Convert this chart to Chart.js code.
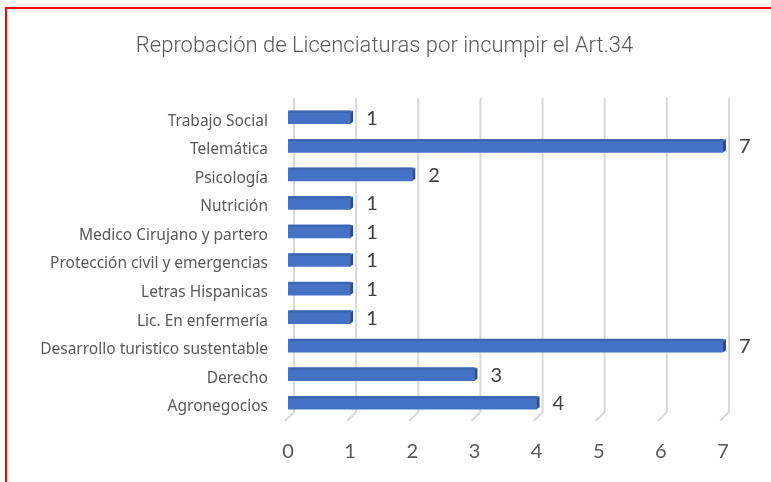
<!DOCTYPE html>
<html>
<head>
<meta charset="utf-8">
<script src="https://cdn.jsdelivr.net/npm/chart.js@4/dist/chart.umd.min.js"></script>
<style>
    html, body { margin: 0; padding: 0; background: #fff; overflow: hidden; }
    #wrap { position: relative; width: 771px; height: 482px; }
    #frame { position: absolute; left: 5px; top: 7px; width: 800px; height: 500px;
             border-left: 2px solid #ff0000; border-top: 2px solid #ff0000; }
    canvas { position: absolute; left: 0; top: 0; }
</style>
</head>
<body>
<div id="wrap">
    <div id="frame"></div>
    <canvas id="c" width="771" height="482"></canvas>
</div>
<script>
const titleText = 'Reprobación de Licenciaturas por incumpir el Art.34';
const carreras = [
    'Trabajo Social',
    'Telemática',
    'Psicología',
    'Nutrición',
    'Medico Cirujano y partero',
    'Protección civil y emergencias',
    'Letras Hispanicas',
    'Lic. En enfermería',
    'Desarrollo turistico sustentable',
    'Derecho',
    'Agronegocios'
];
const reprobados = [1, 7, 2, 1, 1, 1, 1, 1, 7, 3, 4];
const xTicks = [0, 1, 2, 3, 4, 5, 6, 7];

// fake 3D: back gridlines with a little floor stub, bar top face and end cap, value labels
const look3d = {
    id: 'look3d',
    beforeDatasetsDraw(chart) {
        const ctx = chart.ctx;
        const xs = chart.scales.x;
        const area = chart.chartArea;
        ctx.save();
        // title, centred on the whole picture (Excel style)
        ctx.fillStyle = '#595959';
        ctx.font = '300 22px Roboto';
        ctx.textAlign = 'center';
        ctx.textBaseline = 'middle';
        ctx.fillText(titleText, chart.width / 2 - 1, 46);

        ctx.strokeStyle = '#d9d9d9';
        ctx.lineWidth = 2;
        xTicks.forEach(v => {
            const px = xs.getPixelForValue(v);
            ctx.beginPath();
            ctx.moveTo(px + 6, area.top - 5);
            ctx.lineTo(px + 6, area.bottom - 5);
            ctx.lineTo(px - 3, area.bottom + 4);
            ctx.stroke();
        });
        ctx.restore();
    },
    afterDatasetsDraw(chart) {
        const ctx = chart.ctx;
        const meta = chart.getDatasetMeta(0);
        ctx.save();
        meta.data.forEach((bar, i) => {
            const top = bar.y - bar.height / 2;
            const bottom = bar.y + bar.height / 2;
            // top face
            ctx.fillStyle = '#3b64ae';
            ctx.beginPath();
            ctx.moveTo(bar.base, top + 2);
            ctx.lineTo(bar.base + 3, top);
            ctx.lineTo(bar.x + 3, top);
            ctx.lineTo(bar.x, top + 2);
            ctx.closePath();
            ctx.fill();
            // end cap
            ctx.fillStyle = '#2c4f8c';
            ctx.beginPath();
            ctx.moveTo(bar.x, top + 2);
            ctx.lineTo(bar.x + 3, top);
            ctx.lineTo(bar.x + 3, bottom - 2);
            ctx.lineTo(bar.x, bottom);
            ctx.closePath();
            ctx.fill();
            // value label
            ctx.fillStyle = '#404040';
            ctx.font = '20px Lato';
            ctx.textAlign = 'left';
            ctx.textBaseline = 'middle';
            ctx.fillText(String(reprobados[i]), bar.x + 16, bar.y + 1);
        });
        ctx.restore();
    }
};

const ctx = document.getElementById('c').getContext('2d');
new Chart(ctx, {
    type: 'bar',
    data: {
        labels: carreras,
        datasets: [{
            data: reprobados,
            backgroundColor: '#4472c4',
            borderWidth: 0,
            barThickness: 13
        }]
    },
    options: {
        indexAxis: 'y',
        responsive: false,
        animation: false,
        layout: { padding: { left: 0, right: 48, top: 103, bottom: 0 } },
        plugins: {
            legend: { display: false },
            tooltip: { enabled: false },
            title: { display: false }
        },
        scales: {
            x: {
                min: 0,
                max: 7,
                grid: { display: false, drawTicks: false },
                border: { display: false },
                ticks: {
                    stepSize: 1,
                    color: '#595959',
                    font: { family: 'Lato', size: 20 },
                    padding: 23
                },
                afterFit(scale) { scale.height = 65; }
            },
            y: {
                grid: { display: false, drawTicks: false },
                border: { display: false },
                ticks: {
                    color: '#595959',
                    font: { family: 'Noto Sans', size: 15.5 },
                    padding: 20,
                    labelOffset: 4,
                    autoSkip: false
                },
                afterFit(scale) { scale.width = 288; }
            }
        }
    },
    plugins: [look3d]
});
</script>
</body>
</html>
